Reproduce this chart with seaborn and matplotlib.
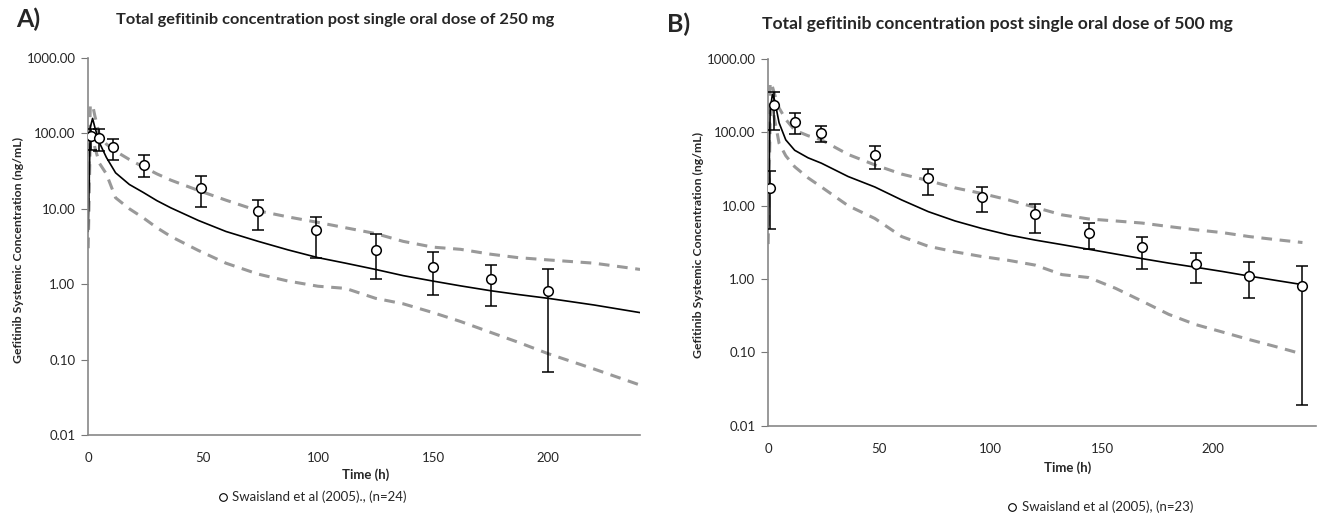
import numpy as np
import pandas as pd
import matplotlib
matplotlib.use("Agg")
import matplotlib.pyplot as plt
from matplotlib.lines import Line2D
from matplotlib.ticker import FixedLocator, FormatStrFormatter
import seaborn as sns

# ---- Panel A: 250 mg ----
obs_time_a = [1.5, 5, 11, 24.5, 49, 74, 99, 125, 150, 175, 200]
obs_mean_a = [91, 88, 65, 38.6, 19, 9.4, 5.25, 2.87, 1.69, 1.18, 0.82]
obs_low_a = [61, 59, 45, 26, 10.6, 5.2, 2.2, 1.17, 0.71, 0.51, 0.068]
obs_high_a = [115, 113, 83, 51, 27.5, 13.2, 7.8, 4.6, 2.65, 1.78, 1.57]

sim_time_a = [0.1, 1, 2, 3, 5, 8, 12, 18, 24, 30, 36, 48, 60, 74, 87, 100, 112,
              125, 137, 150, 162, 175, 187, 200, 220, 240]
sim_mean_a = [5, 120, 158, 120, 75, 48, 30, 21, 16.5, 12.8, 10.3, 7, 5, 3.7,
              2.85, 2.25, 1.9, 1.57, 1.3, 1.1, 0.95, 0.82, 0.73, 0.65, 0.53, 0.42]
sim_upper_a = [10, 230, 240, 170, 95, 72, 58, 45, 36, 29, 24, 17.5, 13, 9.4,
               7.8, 6.6, 5.6, 4.7, 3.7, 3.1, 2.9, 2.5, 2.25, 2.1, 1.9, 1.57]
sim_lower_a = [3, 90, 100, 65, 40, 29, 14, 10, 7.6, 5.6, 4.3, 2.8, 1.9, 1.36,
               1.1, 0.94, 0.88, 0.65, 0.55, 0.42, 0.32, 0.23, 0.17, 0.12, 0.075,
               0.046]

# ---- Panel B: 500 mg ----
obs_time_b = [1, 2.5, 12, 24, 48, 72, 96, 120, 144, 168, 192, 216, 240]
obs_mean_b = [17.3, 233, 139, 99, 49, 23.6, 13.3, 7.6, 4.24, 2.7, 1.62, 1.11, 0.8]
obs_low_b = [4.8, 107, 95, 73, 32, 14, 8.2, 4.3, 2.56, 1.37, 0.88, 0.55, 0.019]
obs_high_b = [29.7, 350, 186, 121, 65, 31.9, 18.2, 10.4, 5.8, 3.8, 2.3, 1.7, 1.53]

sim_time_b = [0.1, 1, 2, 3, 5, 8, 12, 18, 24, 36, 48, 60, 72, 84, 96, 108, 120,
              132, 144, 156, 168, 180, 192, 204, 216, 228, 240]
sim_mean_b = [5, 200, 330, 275, 135, 79, 57, 45, 38, 25, 18, 12, 8.3, 6.2, 4.9,
              4.0, 3.4, 2.95, 2.55, 2.2, 1.9, 1.65, 1.45, 1.27, 1.1, 0.96, 0.84]
sim_upper_b = [10, 480, 420, 330, 215, 150, 107, 90, 79, 50, 36, 27, 22, 17.5,
               14.7, 12, 9.5, 7.5, 6.6, 6.2, 5.8, 5.2, 4.7, 4.3, 3.8, 3.45, 3.15]
sim_lower_b = [3, 150, 225, 150, 71, 48, 34, 24, 18, 10, 6.7, 3.8, 2.8, 2.35,
               2.03, 1.8, 1.55, 1.15, 1.05, 0.75, 0.5, 0.33, 0.24, 0.19, 0.15,
               0.12, 0.095]

y_ticks = [0.01, 0.1, 1, 10, 100, 1000]
x_ticks = [0, 50, 100, 150, 200]

sns.set_style("white")
plt.rcParams["font.family"] = ["Lato", "DejaVu Sans"]

GREY = "#999999"


def draw_panel(ax, st, smean, sup, slow, ot, omean, olow, ohigh, xmax):
    sim = pd.DataFrame({"t": st, "mean": smean, "upper": sup, "lower": slow})
    obs = pd.DataFrame({"t": ot, "mean": omean, "low": olow, "high": ohigh})

    for col in ["upper", "lower"]:
        sns.lineplot(data=sim, x="t", y=col, ax=ax, color=GREY, lw=2.2,
                     linestyle=(0, (3.5, 2.5)), estimator=None, sort=False)
    sns.lineplot(data=sim, x="t", y="mean", ax=ax, color="black", lw=1.2,
                 estimator=None, sort=False)

    ax.errorbar(obs["t"], obs["mean"],
                yerr=[obs["mean"] - obs["low"], obs["high"] - obs["mean"]],
                fmt="none", ecolor="black", elinewidth=1.1, capsize=4,
                capthick=1.1, zorder=4)
    sns.scatterplot(data=obs, x="t", y="mean", ax=ax, marker="o", s=48,
                    color="white", edgecolor="black", linewidth=1.1, zorder=5)

    ax.set_yscale("log")
    ax.set_ylim(0.01, 1000)
    ax.set_xlim(0, xmax)
    ax.yaxis.set_major_locator(FixedLocator(y_ticks))
    ax.yaxis.set_minor_locator(FixedLocator([]))
    ax.yaxis.set_major_formatter(FormatStrFormatter("%.2f"))
    ax.set_xticks(x_ticks)
    ax.tick_params(axis="y", which="major", left=True, length=5, width=0.8,
                   color="#777777", labelsize=9.5, pad=4)
    ax.tick_params(axis="x", bottom=False, labelsize=9.5, pad=9)
    for s in ["top", "right"]:
        ax.spines[s].set_visible(False)
    for s in ["left", "bottom"]:
        ax.spines[s].set_color("#888888")
        ax.spines[s].set_linewidth(1.2)
    ax.set_xlabel("")
    ax.set_ylabel("")


fig = plt.figure(figsize=(13.17, 5.13), dpi=100)
ax_a = fig.add_axes([0.0668, 0.152, 0.4192, 0.735])
ax_b = fig.add_axes([0.5831, 0.170, 0.4160, 0.715])

draw_panel(ax_a, sim_time_a, sim_mean_a, sim_upper_a, sim_lower_a,
           obs_time_a, obs_mean_a, obs_low_a, obs_high_a, 240)
draw_panel(ax_b, sim_time_b, sim_mean_b, sim_upper_b, sim_lower_b,
           obs_time_b, obs_mean_b, obs_low_b, obs_high_b, 246)

W, H = 1317, 513


def ftext(x, y, s, **kw):
    fig.text(x / W, 1 - y / H, s, **kw)


ftext(16, 19, "A)", fontsize=18, fontweight="bold", va="center", ha="left")
ftext(335, 20, "Total gefitinib concentration post single oral dose of 250 mg",
      fontsize=11.8, fontweight="bold", va="center", ha="center")
ftext(667, 24, "B)", fontsize=18, fontweight="bold", va="center", ha="left")
ftext(997, 24, "Total gefitinib concentration post single oral dose of 500 mg",
      fontsize=12.6, fontweight="bold", va="center", ha="center")

ylab = "Gefitinib Systemic Concentration (ng/mL)"
ftext(18, 250, ylab, fontsize=8.8, fontweight="bold", rotation=90,
      va="center", ha="center")
ftext(698, 245, ylab, fontsize=8.8, fontweight="bold", rotation=90,
      va="center", ha="center")

ftext(366, 475, "Time (h)", fontsize=9.5, fontweight="bold", va="center", ha="center")
ftext(1068, 468, "Time (h)", fontsize=9.5, fontweight="bold", va="center", ha="center")

handle = Line2D([], [], marker="o", linestyle="none", markersize=5.5,
                markerfacecolor="white", markeredgecolor="black",
                markeredgewidth=0.8)
fig.legend(handles=[handle], labels=["Swaisland et al (2005)., (n=24)"],
           loc="center", bbox_to_anchor=(312 / W, 1 - 497 / H), frameon=False,
           fontsize=9.5, handlelength=0.8, handletextpad=0.3, borderpad=0)
fig.legend(handles=[handle], labels=["Swaisland et al (2005), (n=23)"],
           loc="center", bbox_to_anchor=(1100 / W, 1 - 507 / H), frameon=False,
           fontsize=9.5, handlelength=0.8, handletextpad=0.3, borderpad=0)

fig.savefig("out.png", dpi=100, facecolor="white")
